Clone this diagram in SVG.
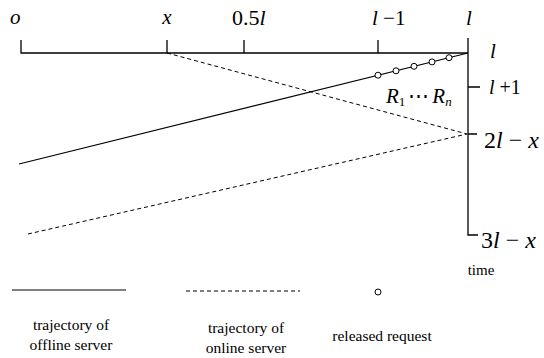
<svg xmlns="http://www.w3.org/2000/svg" width="544" height="358" viewBox="0 0 544 358">
<style>
.ax{stroke:#000;stroke-width:1.3;fill:none}
.sol{stroke:#000;stroke-width:1.1;fill:none}
.dsh{stroke:#000;stroke-width:1;fill:none;stroke-dasharray:4 3}
.req{stroke:#000;stroke-width:1;fill:#fff}
.t{font-family:'Liberation Serif','Times New Roman',serif;fill:#000}
.m{font-style:italic}
.n{font-style:normal}
</style>
<rect width="544" height="358" fill="#fff"/>
<g id="axes">
<path class="ax" d="M21,40 V53 H468 M167,40 V53 M244,40 V53 M378,40 V53 M468,38 V235 H478 M468,87 H480 M468,134 H477"/>
</g>
<g id="connectors">
<line class="sol" x1="468" y1="53" x2="19" y2="164"/>
<line class="dsh" x1="167" y1="53" x2="467" y2="134"/>
<line class="dsh" x1="28" y1="234" x2="467" y2="134"/>
</g>
<g id="requests">
<circle class="req" cx="378" cy="75.2" r="3"/>
<circle class="req" cx="396" cy="70.8" r="3"/>
<circle class="req" cx="414" cy="66.3" r="3"/>
<circle class="req" cx="432" cy="61.9" r="3"/>
<circle class="req" cx="449" cy="57.7" r="3"/>
</g>
<g id="labels">
<text class="t m" x="10" y="24" font-size="21">o</text>
<text class="t m" x="167" y="24" font-size="21" text-anchor="middle">x</text>
<text class="t n" x="232" y="25" font-size="22">0.5<tspan class="m">l</tspan></text>
<text class="t m" x="372" y="25" font-size="21">l<tspan class="n"> −1</tspan></text>
<text class="t m" x="466" y="25" font-size="21">l</text>
<text class="t m" x="490" y="58" font-size="21">l</text>
<text class="t m" x="489" y="94" font-size="20">l<tspan class="n"> +1</tspan></text>
<text class="t m" x="386" y="103" font-size="21">R<tspan class="n" font-size="13" dy="3">1</tspan><tspan class="n" dx="3" dy="-3">⋯</tspan><tspan dx="3">R</tspan><tspan font-size="13" dy="3">n</tspan></text>
<text class="t n" x="484" y="148" font-size="24">2<tspan class="m">l</tspan> − <tspan class="m">x</tspan></text>
<text class="t n" x="481" y="248" font-size="24">3<tspan class="m">l</tspan> − <tspan class="m">x</tspan></text>
<text class="t n" x="481" y="275" font-size="15" text-anchor="middle">time</text>
</g>
<g id="legend">
<line class="sol" x1="12" y1="290" x2="126" y2="290"/>
<line class="dsh" x1="186" y1="291" x2="300" y2="291"/>
<circle class="req" cx="378" cy="292" r="3"/>
<text class="t n" x="71" y="330" font-size="15.5" text-anchor="middle">trajectory of</text>
<text class="t n" x="71" y="350" font-size="15.5" text-anchor="middle">offline server</text>
<text class="t n" x="246" y="333" font-size="15.5" text-anchor="middle">trajectory of</text>
<text class="t n" x="246" y="353" font-size="15.5" text-anchor="middle">online server</text>
<text class="t n" x="382" y="341" font-size="15.5" text-anchor="middle">released request</text>
</g>
</svg>
